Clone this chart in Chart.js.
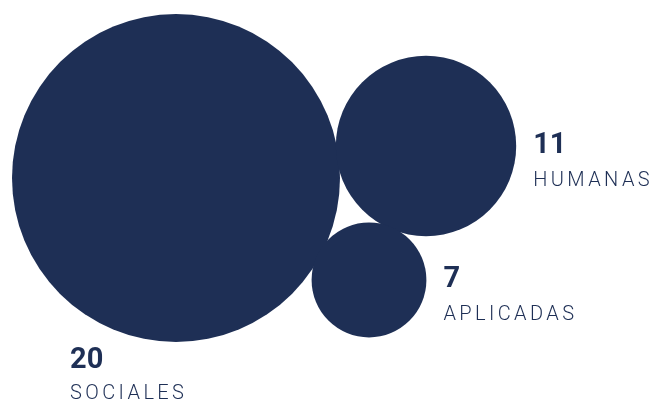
<!DOCTYPE html>
<html>
<head>
<meta charset="utf-8">
<script src="https://cdn.jsdelivr.net/npm/chart.js@4/dist/chart.umd.min.js"></script>
<style>
  html, body { margin: 0; padding: 0; background: #fff; }
  canvas { display: block; }
</style>
</head>
<body>
<canvas id="myChart" width="660" height="401"></canvas>
<script>
// data
var areas = ['SOCIALES', 'HUMANAS', 'APLICADAS'];
var counts = [20, 11, 7];
// bubble centres (in axis units)
var xPos = [176, 426, 369];
var yPos = [178, 146, 280];

var navy = '#1e2f55';
var pxPerUnit = 8.2; // radius grows linearly with the count

var points = [];
for (var i = 0; i < counts.length; i++) {
  points.push({ x: xPos[i], y: yPos[i], r: counts[i] * pxPerUnit });
}

// labels: number in bold, area name below it
var labelPlugin = {
  id: 'bubbleLabels',
  afterDatasetsDraw: function(chart) {
    var ctx = chart.ctx;
    var meta = chart.getDatasetMeta(0);
    ctx.save();
    ctx.fillStyle = navy;
    ctx.textAlign = 'left';
    ctx.textBaseline = 'alphabetic';
    meta.data.forEach(function(el, i) {
      var r = el.options.radius;
      var tx, ty;
      if (i == 0) {
        // under the big one
        tx = el.x - r + 58;
        ty = el.y + r + 26;
      } else {
        tx = el.x + r + 17;
        ty = el.y + 7;
      }
      ctx.letterSpacing = '0px';
      ctx.font = 'bold 29px Roboto';
      ctx.fillText(String(counts[i]), tx, ty);
      ctx.letterSpacing = '3.4px';
      ctx.font = '300 20px Roboto';
      ctx.fillText(areas[i], tx, ty + (i == 0 ? 31 : 33));
    });
    ctx.restore();
  }
};

var ctx = document.getElementById('myChart').getContext('2d');
var chart = new Chart(ctx, {
  type: 'bubble',
  data: {
    labels: areas,
    datasets: [{
      label: 'Áreas',
      data: points,
      backgroundColor: navy,
      borderColor: navy,
      borderWidth: 0,
      hoverRadius: 0,
      clip: false
    }]
  },
  options: {
    responsive: false,
    animation: false,
    events: [],
    layout: { padding: 0, autoPadding: false },
    scales: {
      x: { type: 'linear', min: 0, max: 660, display: false },
      y: { type: 'linear', min: 0, max: 401, reverse: true, display: false }
    },
    plugins: {
      legend: { display: false },
      tooltip: { enabled: false }
    }
  },
  plugins: [labelPlugin]
});
</script>
</body>
</html>
